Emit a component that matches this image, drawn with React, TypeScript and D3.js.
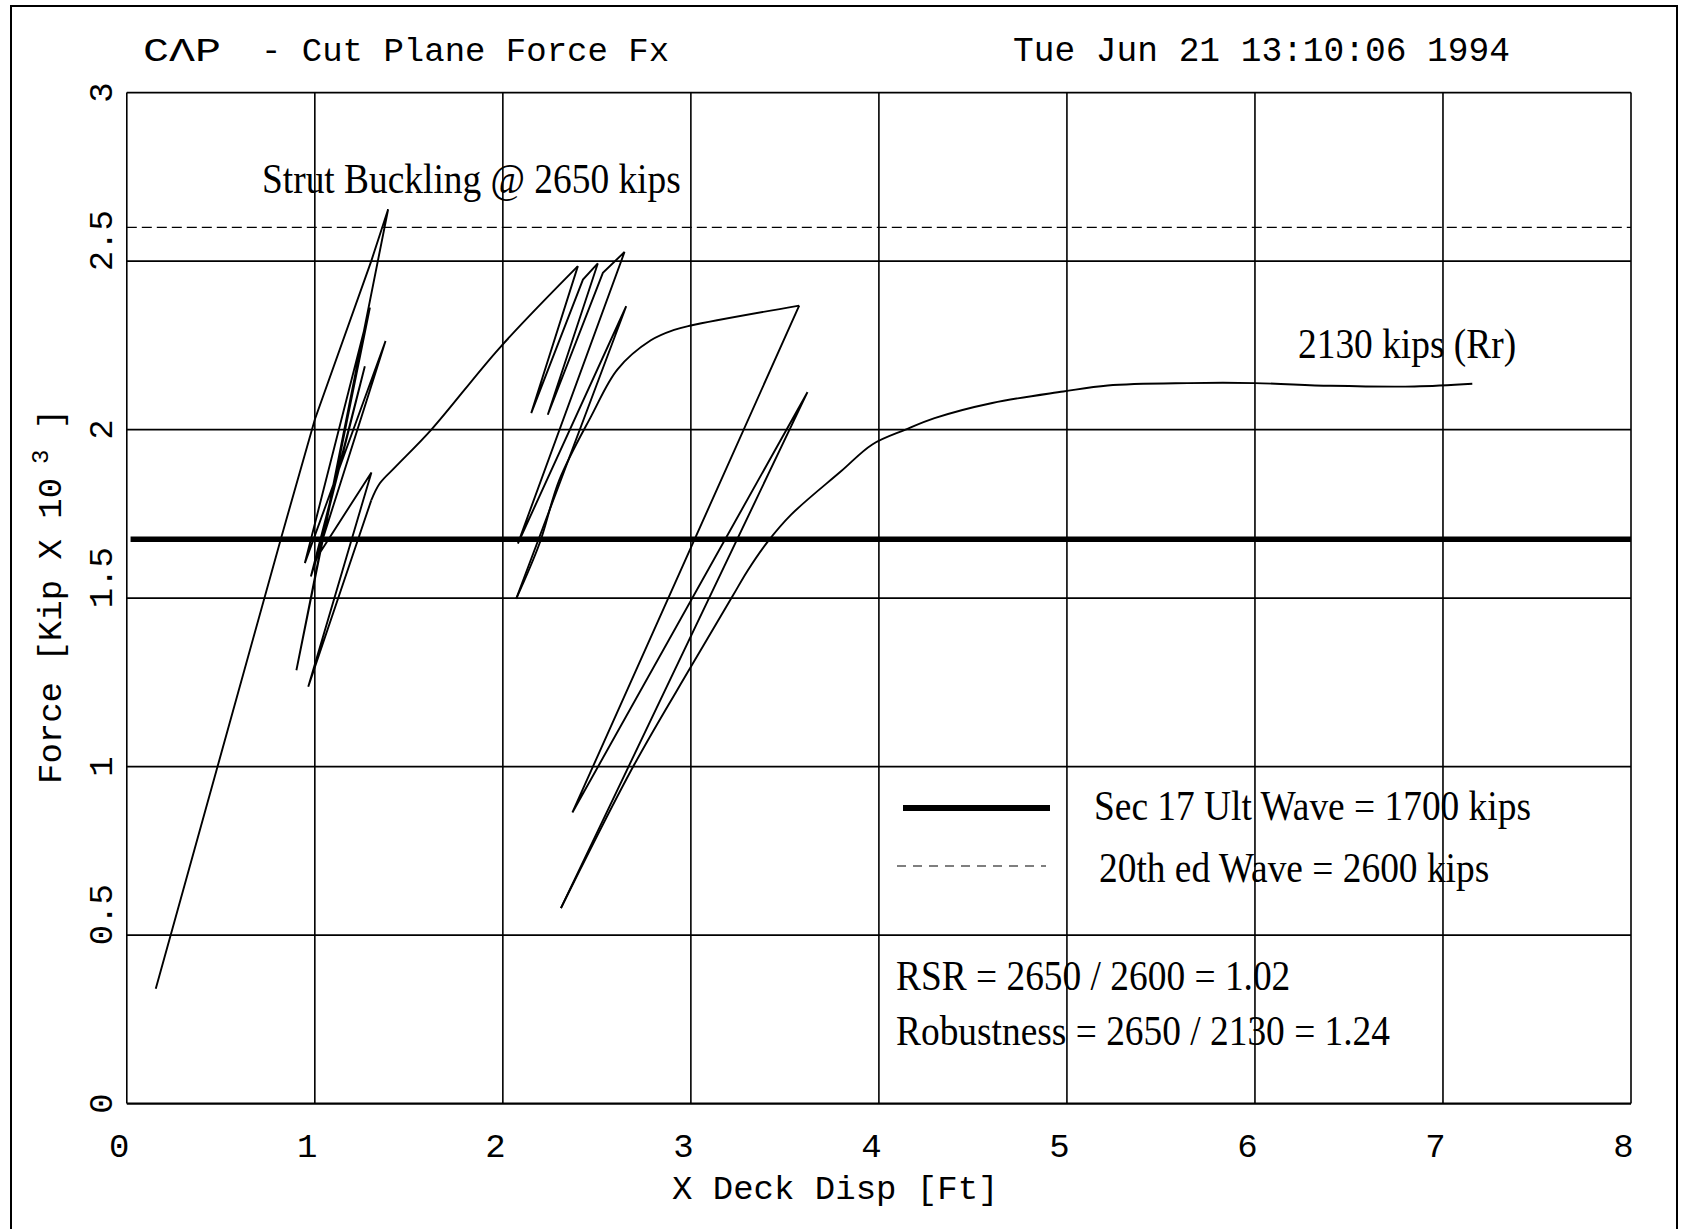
import React from "react";
import * as d3 from "d3";

// axis ticks
const xTicks = [0, 1, 2, 3, 4, 5, 6, 7, 8];
const yTicks = [0, 0.5, 1, 1.5, 2, 2.5, 3];
const yTickLabels = ["0", "0.5", "1", "1.5", "2", "2.5", "3"];

// reference levels (Kip x 10^3)
const ultWaveLevel = 1.675;
const edWaveLevel = 2.6;

// load path: [disp ft, force kip x 1000]
// straight (cyclic) legs
const strutCycles = [
  [0.154, 0.341], [0.823, 1.683], [1.0, 2.03],
  [1.3, 2.5], [1.39, 2.654], [0.902, 1.286], [1.293, 2.362], [0.947, 1.604],
  [1.376, 2.263], [0.979, 1.564], [1.266, 2.188], [1.01, 1.62], [1.301, 1.873],
  [0.965, 1.237], [1.3, 1.79],
];
// knee after the strut cycles (smooth)
const strutKnee = [
  [1.3, 1.79], [1.345, 1.84], [1.43, 1.89], [1.62, 2.0], [1.982, 2.242], [2.399, 2.485],
];
const midCycles = [
  [2.399, 2.485], [2.151, 2.049], [2.426, 2.445], [2.505, 2.493], [2.239, 2.044],
  [2.532, 2.465], [2.647, 2.527], [2.08, 1.662], [2.656, 2.366], [2.071, 1.498],
];
const midCurve = [
  [2.071, 1.498], [2.195, 1.662], [2.3, 1.85], [2.47, 2.04], [2.61, 2.179],
  [2.787, 2.265], [2.911, 2.296], [3.0, 2.309], [3.576, 2.368],
];
const outerCycles = [
  [3.576, 2.368], [2.37, 0.864], [3.62, 2.111], [2.309, 0.58],
];
const residualCurve = [
  [2.309, 0.58], [2.699, 1.006], [3.0, 1.296], [3.222, 1.506], [3.3, 1.58],
  [3.408, 1.667], [3.532, 1.747], [3.8, 1.877], [3.965, 1.956], [4.142, 2.0],
  [4.296, 2.034], [4.603, 2.079], [4.981, 2.113], [5.217, 2.131], [5.643, 2.138],
  [6.0, 2.138], [6.402, 2.13], [6.849, 2.128], [7.156, 2.136],
];

const W = 1685;
const H = 1229;
const mono = "'Liberation Mono', 'DejaVu Sans Mono', monospace";
const serif = "'Liberation Serif', 'DejaVu Serif', serif";

const SerifText = ({ x, y, children }: { x: number; y: number; children: any }) => (
  <text
    transform={`translate(${x},${y}) scale(1,1.14)`}
    fontFamily={serif}
    fontSize={37.4}
    fill="#000"
  >
    {children}
  </text>
);

const App = () => {
  const x = d3.scaleLinear().domain([0, 8]).range([126.8, 1631]);
  const y = d3.scaleLinear().domain([0, 3]).range([1103.6, 92.6]);
  const straight = d3
    .line<number[]>()
    .x((d) => x(d[0]))
    .y((d) => y(d[1]));
  const smooth = d3
    .line<number[]>()
    .x((d) => x(d[0]))
    .y((d) => y(d[1]))
    .curve(d3.curveCatmullRom.alpha(0.5));

  const pieces = [
    { pts: strutCycles, gen: straight },
    { pts: strutKnee, gen: smooth },
    { pts: midCycles, gen: straight },
    { pts: midCurve, gen: smooth },
    { pts: outerCycles, gen: straight },
    { pts: residualCurve, gen: smooth },
  ];

  return (
    <svg
      width={W}
      height={H}
      style={{ position: "absolute", left: 0, top: 0, background: "#fff" }}
    >
      <rect x={0} y={0} width={W} height={H} fill="#fff" />
      {/* page frame */}
      <path d={`M11,${H + 5} V6 H1677 V${H + 5}`} fill="none" stroke="#000" strokeWidth={2} />

      {/* title */}
      <text x={143} y={61} fontFamily={mono} fontSize={34} textLength={78} lengthAdjust="spacingAndGlyphs">
        CΛP
      </text>
      <text x={261} y={61} fontFamily={mono} fontSize={34}>
        - Cut Plane Force Fx
      </text>
      <text x={1013} y={61} fontFamily={mono} fontSize={34.5}>
        Tue Jun 21 13:10:06 1994
      </text>

      {/* grid */}
      {xTicks.map((t) => (
        <line key={"gx" + t} x1={x(t)} x2={x(t)} y1={y(0)} y2={y(3)} stroke="#000" strokeWidth={1.6} />
      ))}
      {yTicks.map((t) => (
        <line key={"gy" + t} x1={x(0)} x2={x(8)} y1={y(t)} y2={y(t)} stroke="#000" strokeWidth={t === 0 ? 2.4 : 1.8} />
      ))}

      {/* x tick labels */}
      {xTicks.map((t) => (
        <text key={"tx" + t} x={x(t) - 7.5} y={1157} textAnchor="middle" fontFamily={mono} fontSize={34}>
          {String(t)}
        </text>
      ))}
      {/* y tick labels (rotated, first char centred on tick) */}
      {yTicks.map((t, i) => (
        <text
          key={"ty" + t}
          transform={`translate(112,${y(t) + 10.2}) rotate(-90)`}
          fontFamily={mono}
          fontSize={34}
        >
          {yTickLabels[i]}
        </text>
      ))}

      {/* axis titles */}
      <text x={672} y={1199} fontFamily={mono} fontSize={34}>
        X Deck Disp [Ft]
      </text>
      <text transform="translate(61,784) rotate(-90)" fontFamily={mono} fontSize={34}>
        Force [Kip X 10
        <tspan dx={14} dy={-13} fontSize={24}>3</tspan>
        <tspan dy={13}> ]</tspan>
      </text>

      {/* reference levels */}
      <line x1={x(0)} x2={x(8)} y1={y(edWaveLevel)} y2={y(edWaveLevel)} stroke="#000" strokeWidth={1.3} strokeDasharray="10,5" />
      <line x1={x(0.02)} x2={x(8)} y1={y(ultWaveLevel)} y2={y(ultWaveLevel)} stroke="#000" strokeWidth={5.5} />

      {/* load-displacement path */}
      {pieces.map((p, i) => (
        <path key={"p" + i} d={p.gen(p.pts) || ""} fill="none" stroke="#000" strokeWidth={1.9} strokeLinejoin="miter" />
      ))}

      {/* annotations */}
      <SerifText x={262} y={193}>Strut Buckling @ 2650 kips</SerifText>
      <SerifText x={1298} y={358}>2130 kips (Rr)</SerifText>

      {/* legend */}
      <line x1={903} x2={1050} y1={808} y2={808} stroke="#000" strokeWidth={6} />
      <SerifText x={1094} y={820}>Sec 17 Ult Wave = 1700 kips</SerifText>
      <line x1={897} x2={1046} y1={866} y2={866} stroke="#000" strokeWidth={1.2} strokeDasharray="9,7" />
      <SerifText x={1099} y={882}>20th ed Wave = 2600 kips</SerifText>

      <SerifText x={896} y={990}>RSR = 2650 / 2600 = 1.02</SerifText>
      <SerifText x={896} y={1045}>Robustness = 2650 / 2130 = 1.24</SerifText>
    </svg>
  );
};

export default App;
